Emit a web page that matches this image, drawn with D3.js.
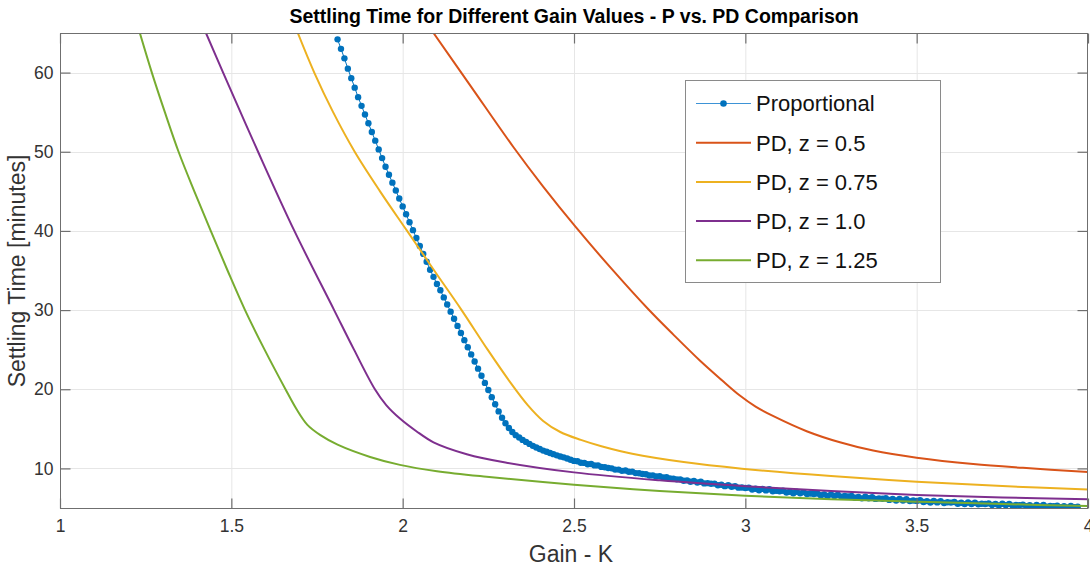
<!DOCTYPE html>
<html><head><meta charset="utf-8">
<script src="https://cdn.jsdelivr.net/npm/d3@7"></script>
<style>
body{margin:0;background:#fff}
text{font-family:Arial,"Liberation Sans",Helvetica,sans-serif}
</style>
</head><body>
<svg id="chart" width="1090" height="570"></svg>
<script>
// ---------- data ----------
const xTicks = [1, 1.5, 2, 2.5, 3, 3.5, 4];
const yTicks = [10, 20, 30, 40, 50, 60];
const seriesNames = ["Proportional", "PD, z = 0.5", "PD, z = 0.75", "PD, z = 1.0", "PD, z = 1.25"];
const seriesColors = ["#0072BD", "#D95319", "#EDB120", "#7E2F8E", "#77AC30"];

// Proportional controller: gain sampled every 0.01 from 1.81 to 3.97
const propK = d3.range(181, 398).map(i => i / 100);
const propT = [
  64.2, 63.0, 61.8, 60.5, 59.3, 58.1, 56.9, 55.8, 54.7, 53.6,   // 1.81-1.90
  52.5, 51.4, 50.3, 49.2, 48.1, 47.1, 46.1, 45.1, 44.1, 43.1,   // 1.91-2.00
  42.1, 41.1, 40.1, 39.1, 38.1, 37.1, 36.1, 35.1, 34.2, 33.3,   // 2.01-2.10
  32.5, 31.6, 30.7, 29.8, 28.9, 28.0, 27.1, 26.2, 25.3, 24.4,   // 2.11-2.20
  23.5, 22.6, 21.7, 20.8, 19.9, 19.0, 18.1, 17.2, 16.4, 15.7,   // 2.21-2.30
  15.1, 14.6, 14.2, 13.9, 13.6, 13.35, 13.1, 12.85, 12.65, 12.45, // 2.31-2.40
  12.25, 12.1, 11.95, 11.8, 11.65, 11.5, 11.4, 11.25, 11.1, 10.95, // 2.41-2.50
  10.90, 10.72, 10.70, 10.53, 10.55, 10.38, 10.38, 10.19, 10.15, 10.05, // 2.51-2.60
  10.01, 9.85, 9.85, 9.69, 9.73, 9.57, 9.59, 9.41, 9.39, 9.30,  // 2.61-2.70
  9.27, 9.11, 9.12, 8.97, 9.01, 8.86, 8.88, 8.72, 8.70, 8.62,   // 2.71-2.80
  8.62, 8.44, 8.49, 8.32, 8.41, 8.23, 8.31, 8.11, 8.14, 8.06,   // 2.81-2.90
  8.08, 7.88, 7.94, 7.76, 7.87, 7.69, 7.76, 7.57, 7.59, 7.52,   // 2.91-3.00
  7.57, 7.34, 7.44, 7.24, 7.42, 7.22, 7.36, 7.12, 7.18, 7.12,   // 3.01-3.10
  7.18, 6.95, 7.06, 6.86, 7.05, 6.85, 7.00, 6.76, 6.83, 6.77,   // 3.11-3.20
  6.83, 6.61, 6.72, 6.53, 6.72, 6.52, 6.67, 6.44, 6.51, 6.46,   // 3.21-3.30
  6.52, 6.30, 6.41, 6.22, 6.42, 6.23, 6.38, 6.15, 6.22, 6.17,   // 3.31-3.40
  6.23, 6.02, 6.13, 5.94, 6.14, 5.95, 6.10, 5.87, 5.95, 5.90,   // 3.41-3.50
  5.97, 5.76, 5.87, 5.69, 5.89, 5.71, 5.87, 5.64, 5.72, 5.68,   // 3.51-3.60
  5.75, 5.54, 5.67, 5.49, 5.69, 5.51, 5.67, 5.46, 5.54, 5.50,   // 3.61-3.70
  5.58, 5.37, 5.50, 5.32, 5.53, 5.35, 5.52, 5.30, 5.39, 5.35,   // 3.71-3.80
  5.43, 5.22, 5.35, 5.18, 5.39, 5.21, 5.38, 5.17, 5.25, 5.22,   // 3.81-3.90
  5.30, 5.10, 5.23, 5.06, 5.27, 5.10, 5.17                      // 3.91-3.97
];

// PD, z = 0.5
const pd05K = [2.09, 2.2, 2.323, 2.41, 2.503, 2.61, 2.717, 2.79, 2.868, 2.93, 2.984, 3.03, 3.082, 3.179, 3.276, 3.373, 3.5, 3.665, 3.81, 4.0];
const pd05T = [65, 58.2, 50.6, 45.6, 40.6, 35.2, 30.1, 26.9, 23.6, 21.2, 19.2, 17.8, 16.6, 14.7, 13.3, 12.25, 11.35, 10.55, 10.07, 9.55];
// PD, z = 0.75
const pd075K = [1.694, 1.742, 1.797, 1.86, 1.934, 2.013, 2.092, 2.172, 2.248, 2.312, 2.365, 2.41, 2.46, 2.52, 2.58, 2.67, 2.82, 2.99, 3.25, 3.5, 3.75, 4.0];
const pd075T = [65, 60, 55, 50, 45, 40, 35, 30, 25, 21, 18, 16, 14.6, 13.6, 12.8, 11.85, 10.8, 9.97, 9.03, 8.32, 7.77, 7.35];
// PD, z = 1.0
const pd10K = [1.426, 1.476, 1.578, 1.684, 1.8, 1.858, 1.919, 1.952, 1.992, 2.04, 2.09, 2.187, 2.3, 2.5, 2.75, 3.0, 3.25, 3.5, 3.75, 4.0];
const pd10T = [65, 60, 50, 40, 30, 25, 20, 18, 16.3, 14.7, 13.3, 11.8, 10.75, 9.5, 8.5, 7.75, 7.15, 6.65, 6.33, 6.1];
// PD, z = 1.25
const pd125K = [1.233, 1.268, 1.306, 1.346, 1.392, 1.44, 1.489, 1.54, 1.597, 1.658, 1.69, 1.722, 1.76, 1.81, 1.905, 1.992, 2.1, 2.245, 2.5, 2.75, 3.0, 3.25, 3.5, 3.75, 4.0];
const pd125T = [65, 60, 55, 50, 45, 40, 35, 30, 25, 20, 17.5, 15.5, 14.2, 13.0, 11.45, 10.45, 9.65, 8.95, 7.95, 7.15, 6.55, 6.12, 5.8, 5.5, 5.25];

// ---------- layout ----------
const svg = d3.select("#chart");
const L = 60, R = 1088, T = 33, B = 508;
const x = d3.scaleLinear().domain([1, 4]).range([L, R]);
const y = d3.scaleLinear().domain([5, 65]).range([B, T]);
const axisColor = "#6f6f6f";
const textColor = "#333333";

svg.append("rect").attr("x", 0).attr("y", 0).attr("width", 1090).attr("height", 570).attr("fill", "#fff");

// grid
const grid = svg.append("g");
grid.selectAll(".gx").data(xTicks.filter(d => d > 1 && d < 4)).enter().append("line")
  .attr("x1", d => x(d) + 0.5).attr("x2", d => x(d) + 0.5).attr("y1", T).attr("y2", B)
  .attr("stroke", "#e6e6e6").attr("stroke-width", 1);
grid.selectAll(".gy").data(yTicks).enter().append("line")
  .attr("y1", d => Math.round(y(d)) + 0.5).attr("y2", d => Math.round(y(d)) + 0.5).attr("x1", L).attr("x2", R)
  .attr("stroke", "#e6e6e6").attr("stroke-width", 1);

// clip
svg.append("clipPath").attr("id", "clip").append("rect")
  .attr("x", L).attr("y", T).attr("width", R - L).attr("height", B - T);
const plot = svg.append("g").attr("clip-path", "url(#clip)");

// proportional
const propData = propK.map((k, i) => [k, propT[i]]);
plot.append("path").datum(propData)
  .attr("fill", "none").attr("stroke", seriesColors[0]).attr("stroke-width", 1)
  .attr("d", d3.line().x(d => x(d[0])).y(d => y(d[1])));
plot.selectAll(".dot").data(propData).enter().append("circle")
  .attr("cx", d => x(d[0])).attr("cy", d => y(d[1])).attr("r", 3.2)
  .attr("fill", seriesColors[0]);

// PD curves
const pdSets = [[pd05K, pd05T], [pd075K, pd075T], [pd10K, pd10T], [pd125K, pd125T]];
const smooth = d3.line().x(d => x(d[0])).y(d => y(d[1])).curve(d3.curveCatmullRom.alpha(0.5));
pdSets.forEach((s, i) => {
  const data = s[0].map((k, j) => [k, s[1][j]]);
  plot.append("path").datum(data)
    .attr("fill", "none").attr("stroke", seriesColors[i + 1]).attr("stroke-width", 2)
    .attr("d", smooth);
});

// axes (box with inside ticks on all four sides)
const tickLen = 10;
const ax = svg.append("g");
ax.append("rect").attr("x", L + 0.5).attr("y", T + 0.5).attr("width", R - L - 1).attr("height", B - T)
  .attr("fill", "none").attr("stroke", axisColor).attr("stroke-width", 1);

const xAxisB = d3.axisBottom(x).tickValues(xTicks).tickFormat(d3.format("")).tickSizeInner(-tickLen).tickSizeOuter(0).tickPadding(11);
const gxb = svg.append("g").attr("transform", `translate(0,${B + 0.5})`).call(xAxisB);
const xAxisT = d3.axisTop(x).tickValues(xTicks).tickFormat("").tickSizeInner(-tickLen).tickSizeOuter(0);
const gxt = svg.append("g").attr("transform", `translate(0,${T + 0.5})`).call(xAxisT);
const yAxisL = d3.axisLeft(y).tickValues(yTicks).tickFormat(d3.format("")).tickSizeInner(-tickLen).tickSizeOuter(0).tickPadding(7);
const gyl = svg.append("g").attr("transform", `translate(${L + 0.5},0)`).call(yAxisL);
const yAxisR = d3.axisRight(y).tickValues(yTicks).tickFormat("").tickSizeInner(-tickLen).tickSizeOuter(0);
const gyr = svg.append("g").attr("transform", `translate(${R - 0.5},0)`).call(yAxisR);
[gxb, gxt, gyl, gyr].forEach(g => {
  g.select(".domain").remove();
  g.selectAll(".tick line").attr("stroke", axisColor).attr("stroke-width", 1.2);
  g.selectAll(".tick text").attr("fill", textColor).style("font-size", "17.5px")
    .style("font-family", "Arial, 'Liberation Sans', Helvetica, sans-serif");
});

// titles
svg.append("text").attr("x", 574).attr("y", 23).attr("text-anchor", "middle")
  .style("font-size", "19.5px").style("font-weight", "bold").attr("fill", "#000")
  .text("Settling Time for Different Gain Values - P vs. PD Comparison");
svg.append("text").attr("x", 571).attr("y", 562).attr("text-anchor", "middle")
  .style("font-size", "23px").attr("fill", textColor).text("Gain - K");
svg.append("text").attr("transform", "translate(25,271) rotate(-90)").attr("text-anchor", "middle")
  .style("font-size", "23px").attr("fill", textColor).text("Settling Time [minutes]");

// legend
const lg = svg.append("g");
lg.append("rect").attr("x", 685.5).attr("y", 80.5).attr("width", 255).attr("height", 202)
  .attr("fill", "#fff").attr("stroke", "#8a8a8a").attr("stroke-width", 1);
const rowY = d => 103.5 + d * 39.2;
seriesNames.forEach((name, i) => {
  const yy = rowY(i);
  lg.append("line").attr("x1", 696).attr("x2", 751).attr("y1", yy).attr("y2", yy)
    .attr("stroke", i === 0 ? "#3d93d6" : seriesColors[i]).attr("stroke-width", i === 0 ? 1 : 2);
  if (i === 0) lg.append("circle").attr("cx", 723.5).attr("cy", yy).attr("r", 3.3).attr("fill", seriesColors[0]);
  lg.append("text").attr("x", 756).attr("y", yy).attr("dy", "0.36em")
    .style("font-size", "22px").attr("fill", "#111").text(name);
});
</script>
</body></html>
